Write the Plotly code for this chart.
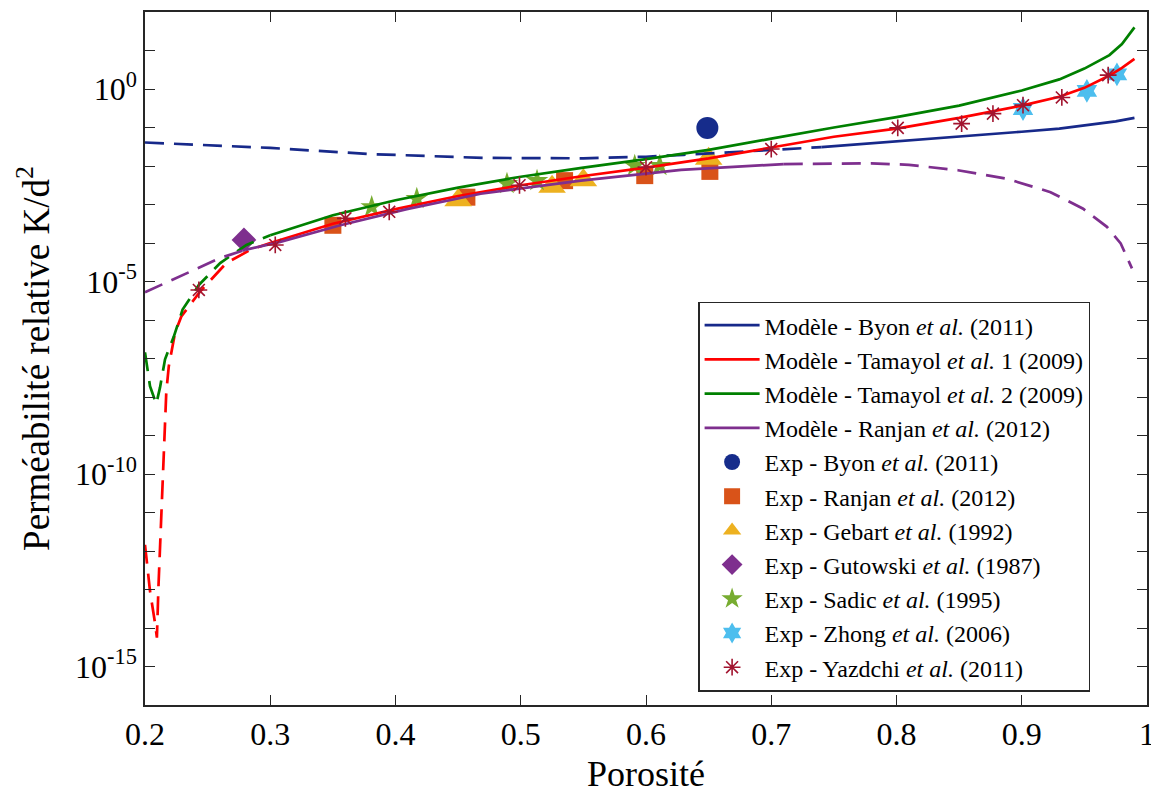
import plotly.graph_objects as go

# ---------------- data (x = porosity, values = log10(K/d^2)) ----------------
# Byon et al. (2011) model
byon_dash_x = [0.20, 0.25, 0.30, 0.38, 0.47, 0.55, 0.60, 0.63, 0.70, 0.74]
byon_dash_e = [-1.39, -1.46, -1.53, -1.69, -1.79, -1.80, -1.76, -1.71, -1.58, -1.51]
byon_sol_x = [0.74, 0.78, 0.82, 0.87, 0.90, 0.93, 0.953, 0.975, 0.99]
byon_sol_e = [-1.51, -1.41, -1.31, -1.20, -1.11, -1.03, -0.94, -0.84, -0.75]

# Tamayol et al. 1 (2009) model
tam1_dash_x = [0.200, 0.204, 0.208, 0.2095, 0.2107, 0.213, 0.215, 0.217, 0.219, 0.224, 0.229,
               0.235, 0.244, 0.265, 0.284, 0.300]
tam1_dash_e = [-11.84, -13.04, -13.87, -14.25, -12.96, -10.97, -9.35, -7.87, -7.20, -6.33, -5.91,
               -5.65, -5.26, -4.52, -4.18, -4.00]
tam1_sol_x = [0.30, 0.35, 0.40, 0.45, 0.50, 0.55, 0.60, 0.65, 0.70, 0.75, 0.80, 0.85, 0.90,
              0.93, 0.95, 0.97, 0.98, 0.99]
tam1_sol_e = [-4.00, -3.50, -3.12, -2.78, -2.50, -2.26, -2.04, -1.80, -1.52, -1.24, -1.03, -0.75,
              -0.43, -0.20, 0.03, 0.35, 0.55, 0.78]

# Tamayol et al. 2 (2009) model
tam2_dash_x = [0.200, 0.204, 0.209, 0.212, 0.216, 0.223, 0.230, 0.243, 0.260, 0.281, 0.300]
tam2_dash_e = [-6.84, -7.72, -8.18, -7.75, -7.02, -6.43, -5.73, -5.09, -4.52, -4.05, -3.80]
tam2_sol_x = [0.30, 0.35, 0.40, 0.45, 0.50, 0.55, 0.60, 0.65, 0.70, 0.75, 0.80, 0.85, 0.90,
              0.93, 0.95, 0.97, 0.98, 0.99]
tam2_sol_e = [-3.80, -3.28, -2.89, -2.56, -2.28, -2.04, -1.82, -1.58, -1.29, -1.00, -0.73, -0.43,
              -0.04, 0.25, 0.53, 0.88, 1.17, 1.60]

# Ranjan et al. (2012) model
ranj_dash1_x = [0.20, 0.228, 0.26, 0.28]
ranj_dash1_e = [-5.28, -4.87, -4.39, -4.18]
ranj_sol_x = [0.28, 0.308, 0.356, 0.409, 0.468, 0.548, 0.628, 0.71]
ranj_sol_e = [-4.18, -3.97, -3.54, -3.12, -2.72, -2.38, -2.10, -1.95]
ranj_dash2_x = [0.71, 0.75, 0.78, 0.81, 0.849, 0.888, 0.923, 0.949, 0.968, 0.979, 0.988]
ranj_dash2_e = [-1.95, -1.93, -1.93, -1.97, -2.11, -2.33, -2.68, -3.11, -3.58, -4.01, -4.66]

# Experimental data
exp_byon_x = [0.649]
exp_byon_e = [-1.01]
exp_ranjan_x = [0.350, 0.457, 0.535, 0.599, 0.651]
exp_ranjan_e = [-3.54, -2.81, -2.38, -2.25, -2.14]
exp_gebart_x = [0.450, 0.525, 0.550, 0.650]
exp_gebart_e = [-2.89, -2.54, -2.37, -1.81]
exp_gutowski_x = [0.279]
exp_gutowski_e = [-3.92]
exp_sadic_x = [0.381, 0.417, 0.489, 0.513, 0.591, 0.611]
exp_sadic_e = [-3.06, -2.85, -2.46, -2.38, -1.99, -1.99]
exp_zhong_x = [0.901, 0.952, 0.976]
exp_zhong_e = [-0.52, -0.05, 0.38]
exp_yazdchi_x = [0.243, 0.304, 0.360, 0.395, 0.499, 0.600, 0.700, 0.801, 0.852, 0.877, 0.901,
                 0.932, 0.969]
exp_yazdchi_e = [-5.22, -4.05, -3.36, -3.19, -2.50, -2.03, -1.56, -1.01, -0.90, -0.64, -0.42,
                 -0.22, 0.36]

x_ticks = [0.2, 0.3, 0.4, 0.5, 0.6, 0.7, 0.8, 0.9, 1.0]
x_ticktext = ["0.2", "0.3", "0.4", "0.5", "0.6", "0.7", "0.8", "0.9", "1"]
y_decades = list(range(-16, 3))
y_labelled = [-15, -10, -5, 0]


def p10(exps):
    return [10.0 ** e for e in exps]


FONT = "Liberation Serif"
C_BYON = "#17298A"
C_RED = "#FF0000"
C_GREEN = "#008000"
C_PURPLE = "#7E2F8E"
DASH = "19px,10px"
LW = 2.7

fig = go.Figure()


def line(x, e, color, dash, name=None, show=False, rank=None):
    fig.add_trace(go.Scatter(
        x=x, y=p10(e), mode="lines", name=name or "", showlegend=show,
        legendrank=rank if rank is not None else 1000,
        line=dict(color=color, width=LW, dash=dash)))


def marks(x, e, name, symbol, color, size, rank, lcolor=None, lw=0):
    fig.add_trace(go.Scatter(
        x=x, y=p10(e), mode="markers", name=name, legendrank=rank,
        marker=dict(symbol=symbol, color=color, size=size,
                    line=dict(color=lcolor or color, width=lw))))


# experimental markers (drawn beneath model lines)
marks(exp_byon_x, exp_byon_e, "Exp - Byon <i>et al.</i> (2011)", "circle", "#162C8B", 22, 5)
marks(exp_ranjan_x, exp_ranjan_e, "Exp - Ranjan <i>et al.</i> (2012)", "square", "#D95319", 17, 6)
marks(exp_gebart_x, exp_gebart_e, "Exp - Gebart <i>et al.</i> (1992)", "triangle-up", "#EDB120", 24, 7)
marks(exp_gutowski_x, exp_gutowski_e, "Exp - Gutowski <i>et al.</i> (1987)", "diamond", "#7E2F8E", 19, 8)
marks(exp_sadic_x, exp_sadic_e, "Exp - Sadic <i>et al.</i> (1995)", "star", "#77AC30", 17, 9)
marks(exp_zhong_x, exp_zhong_e, "Exp - Zhong <i>et al.</i> (2006)", "hexagram", "#4DBEEE", 18, 10)

# model curves
line(byon_dash_x, byon_dash_e, C_BYON, DASH)
line(byon_sol_x, byon_sol_e, C_BYON, "solid", "Modèle - Byon <i>et al.</i> (2011)", True, 1)
line(tam1_dash_x, tam1_dash_e, C_RED, DASH)
line(tam1_sol_x, tam1_sol_e, C_RED, "solid", "Modèle - Tamayol <i>et al.</i> 1 (2009)", True, 2)
line(tam2_dash_x, tam2_dash_e, C_GREEN, DASH)
line(tam2_sol_x, tam2_sol_e, C_GREEN, "solid", "Modèle - Tamayol <i>et al.</i> 2 (2009)", True, 3)
line(ranj_dash1_x, ranj_dash1_e, C_PURPLE, DASH)
line(ranj_dash2_x, ranj_dash2_e, C_PURPLE, DASH)
line(ranj_sol_x, ranj_sol_e, C_PURPLE, "solid", "Modèle - Ranjan <i>et al.</i> (2012)", True, 4)

marks(exp_yazdchi_x, exp_yazdchi_e, "Exp - Yazdchi <i>et al.</i> (2011)", "asterisk-open",
      "#A2142F", 14, 11, lcolor="#A2142F", lw=1.6)

axis_common = dict(
    showline=True, linecolor="#262626", linewidth=1.5, mirror="ticks",
    ticks="inside", ticklen=10, tickwidth=1.2, tickcolor="#262626",
    showgrid=False, zeroline=False,
    tickfont=dict(family=FONT, size=32, color="black"),
)

# page has an 8px body margin, so the figure is sized/positioned to compensate
fig.update_layout(
    width=1151, height=790,
    margin=dict(l=137, r=12, t=2, b=93),
    paper_bgcolor="white", plot_bgcolor="white",
    font=dict(family=FONT, color="black"),
    xaxis=dict(range=[0.2, 1.0], tickmode="array", tickvals=x_ticks, ticktext=x_ticktext,
               title=dict(text="Porosité", font=dict(family=FONT, size=36), standoff=10),
               **axis_common),
    yaxis=dict(type="log", range=[-16, 2], tickmode="array",
               tickvals=p10(y_decades),
               ticktext=[("10<sup>%d</sup>" % k) if k in y_labelled else "" for k in y_decades],
               title=dict(text="Perméabilité relative K/d<sup>2</sup>",
                          font=dict(family=FONT, size=37), standoff=14),
               **axis_common),
    legend=dict(x=0.7476, y=0.3007, xanchor="center", yanchor="middle",
                bgcolor="white", bordercolor="#262626", borderwidth=1.5,
                font=dict(family=FONT, size=24, color="black"),
                itemwidth=55, tracegroupgap=0),
    showlegend=True,
)

fig.write_html("out.html")
